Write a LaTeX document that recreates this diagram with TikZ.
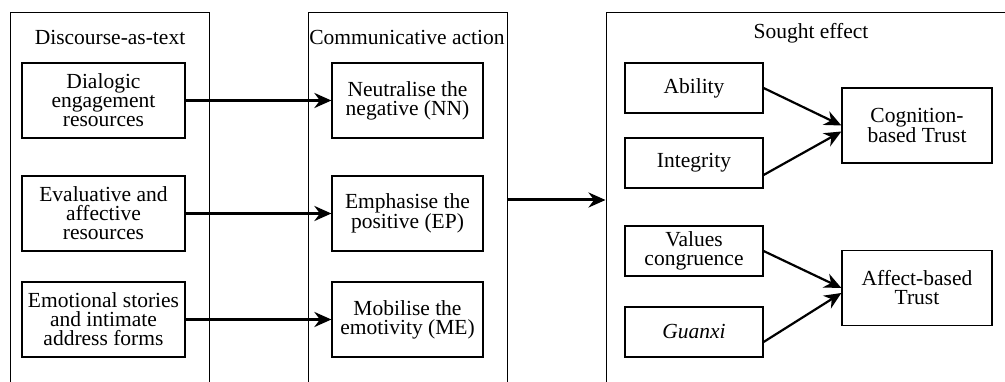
\documentclass[tikz,border=0pt]{standalone}
\usepackage{fontspec}
\setmainfont{Liberation Serif}
\newfontfamily\diagfont{Liberation Serif}
\usetikzlibrary{arrows.meta}

\begin{document}
\begin{tikzpicture}[x=1pt, y=-1pt,
	font=\diagfont\fontsize{21.5}{19}\selectfont,
	panel/.style={rectangle, draw, line width=1pt, minimum height=374pt, inner sep=0pt},
	box/.style={rectangle, draw, line width=1.2pt, align=center, inner sep=0pt},
	flow/.style={-{Stealth[length=17pt, width=15pt]}, line width=3pt},
	link/.style={-{Stealth[length=17pt, width=15pt]}, line width=2.2pt}]
	\clip (0,0) rectangle (1005,382);
	% three panels, open at the bottom
	\node[panel, minimum width=199pt] (P1) at (109.5,200) {};
	\node[panel, minimum width=199pt] (P2) at (407.5,200) {};
	\node[panel, minimum width=414pt] (P3) at (813,200) {};
	\node (T1) at (110,37) {Discourse-as-text};
	\node (T2) at (407,37) {Communicative action};
	\node (T3) at (811,33) {Sought effect};
	
	% discourse-as-text
	\node[box, minimum width=163pt, minimum height=75pt] (D) at (103.5,100.5) {Dialogic\\engagement\\resources};
	\node[box, minimum width=163pt, minimum height=75pt] (V) at (103.5,213.5) {Evaluative and\\affective\\resources};
	\node[box, minimum width=163pt, minimum height=75pt] (S) at (103.5,319.5) {Emotional stories\\and intimate\\address forms};
	
	% communicative action
	\node[box, minimum width=151pt, minimum height=75pt] (NN) at (407.5,100.5) {Neutralise the\\negative (NN)};
	\node[box, minimum width=151pt, minimum height=75pt] (EP) at (407.5,213.5) {Emphasise the\\positive (EP)};
	\node[box, minimum width=151pt, minimum height=75pt] (ME) at (407.5,319.5) {Mobilise the\\emotivity (ME)};
	
	% sought effect
	\node[box, minimum width=138pt, minimum height=50pt] (Ab) at (694,88) {Ability};
	\node[box, minimum width=138pt, minimum height=50pt] (In) at (694,163) {Integrity};
	\node[box, minimum width=138pt, minimum height=50pt] (Vc) at (694,251) {Values\\congruence};
	\node[box, minimum width=138pt, minimum height=50pt] (Gx) at (694,332) {\textit{Guanxi}};
	\node[box, minimum width=150pt, minimum height=75pt] (CT) at (917,125.5) {Cognition-\\based Trust};
	\node[box, minimum width=150pt, minimum height=75pt] (AT) at (917,288) {Affect-based\\Trust};
	
	\draw[flow] (D) -- (NN);
	\draw[flow] (V) -- (EP);
	\draw[flow] (S) -- (ME);
	\draw[flow] (P2) -- (P3);
	\draw[link] (Ab.east) -- (CT.west);
	\draw[link] ([yshift=-12pt]In.east) -- ([yshift=-6pt]CT.west);
	\draw[link] (Vc.east) -- (AT.west);
	\draw[link] ([yshift=-10pt]Gx.east) -- ([yshift=-5pt]AT.west);
\end{tikzpicture}
\end{document}
